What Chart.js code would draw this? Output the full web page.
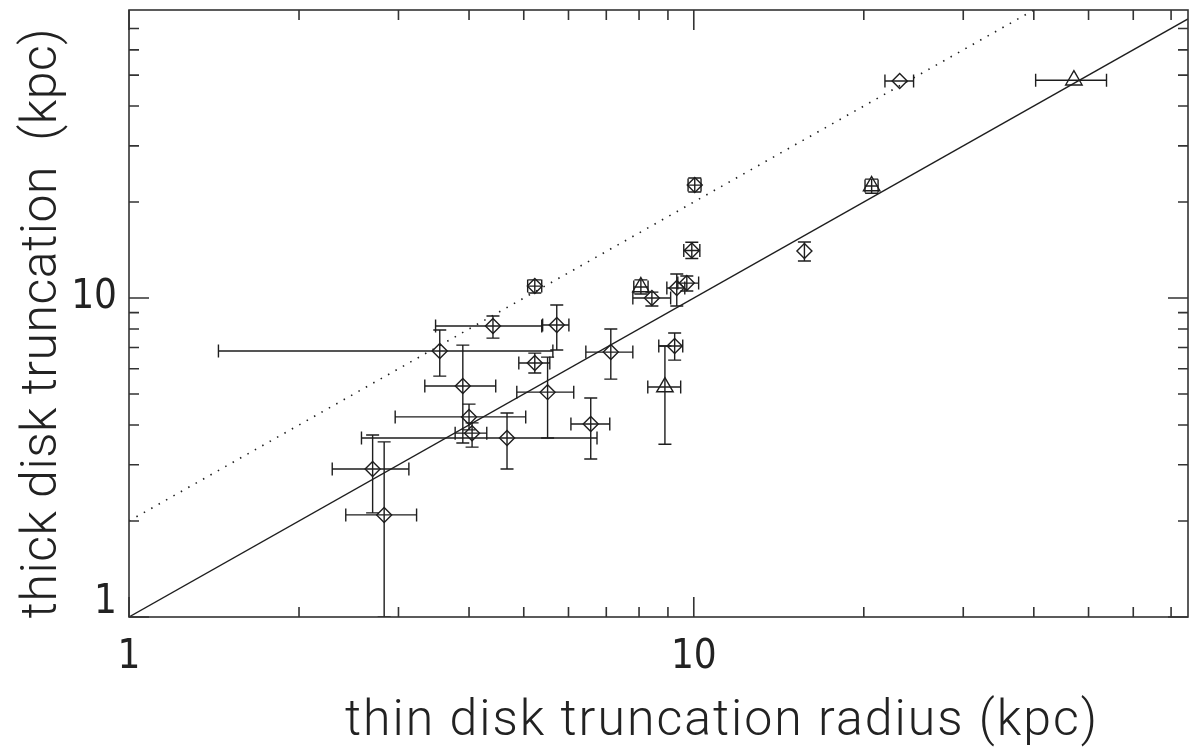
<!DOCTYPE html>
<html>
<head>
<meta charset="utf-8">
<script src="https://cdn.jsdelivr.net/npm/chart.js@4.4.1/dist/chart.umd.min.js"></script>
<style>
  html, body { margin: 0; padding: 0; background: #fff; }
  #wrap { width: 1189px; height: 750px; }
</style>
</head>
<body>
<div id="wrap"><canvas id="truncChart" width="1189" height="750"></canvas></div>
<script>
// diamond galaxies : thin disk radius (x), thick disk radius (y), error ranges (kpc)
var diamondX   = [3.55, 4.41, 5.72, 5.23, 3.90, 5.51, 4.00, 4.05, 4.67, 2.70, 2.83, 6.57, 7.13, 9.25, 8.43, 9.33, 9.72, 5.23, 9.92, 10.04, 15.7, 23.15];
var diamondY   = [6.82, 8.17, 8.23, 6.26, 5.30, 5.07, 4.24, 3.77, 3.64, 2.91, 2.09, 4.03, 6.77, 7.07, 10.0, 10.75, 11.14, 10.9, 14.1, 22.6, 14.04, 47.9];
var diamondXLo = [1.44, 3.49, 5.40, 4.90, 3.34, 4.86, 2.96, 3.78, 2.58, 2.29, 2.42, 6.06, 6.44, 8.67, 7.80, 8.96, 9.37, 5.08, 9.60, 9.77, 15.7, 21.8];
var diamondXHi = [5.63, 5.38, 6.01, 5.56, 4.46, 6.13, 5.04, 4.30, 6.74, 3.13, 3.23, 7.10, 7.80, 9.56, 9.10, 9.64, 10.2, 5.38, 10.25, 10.3, 15.7, 24.5];
var diamondYLo = [5.69, 7.49, 6.87, 5.82, 3.51, 3.64, 3.86, 3.41, 2.91, 2.12, 1.00, 3.13, 5.57, 6.39, 9.44, 9.44, 10.52, 10.37, 13.3, 21.5, 13.06, 47.9];
var diamondYHi = [7.94, 8.78, 9.51, 6.72, 7.12, 6.53, 4.65, 4.06, 4.36, 3.72, 3.54, 4.86, 8.00, 7.77, 10.44, 11.9, 11.72, 11.4, 14.96, 23.8, 14.98, 47.9];

// triangle galaxies
var triangleX   = [8.89, 8.06, 20.65, 47.1];
var triangleY   = [5.26, 10.83, 22.45, 48.2];
var triangleXLo = [8.29, 7.83, 20.1, 40.3];
var triangleXHi = [9.48, 8.30, 21.2, 53.8];
var triangleYLo = [3.48, 10.3, 21.3, 48.2];
var triangleYHi = [7.07, 11.4, 23.6, 48.2];

// reference relations y = x and y = 2x
var oneToOneX = [1, 75];
var oneToOneY = [1, 75];
var twoToOneX = [1, 40];
var twoToOneY = [2, 80];

// axis ticks
var xMajorTicks = [1, 10];
var xMinorTicks = [2, 3, 4, 5, 6, 7, 8, 9, 20, 30, 40, 50, 60, 70];
var yMajorTicks = [1, 10];
var yMinorTicks = [2, 3, 4, 5, 6, 7, 8, 9, 20, 30, 40, 50, 60, 70];
var xTickLabels = ['1', '10'];
var yTickLabels = ['1', '10'];

var xTitle = 'thin disk truncation radius (kpc)';
var yTitle = 'thick disk truncation  (kpc)';

var ink = '#1e1e1e';

function toPoints(xs, ys) {
	return xs.map(function(v, i) { return { x : v, y : ys[i] }; });
}

// error bars with caps, drawn through the scales
var errorBars = {
	id : 'errorBars',
	beforeDatasetsDraw : function(chart) {
		var ctx = chart.ctx, a = chart.chartArea;
		var xs = chart.scales.x, ys = chart.scales.y;
		var cap = 6.5;
		ctx.save();
		ctx.beginPath();
		ctx.rect(a.left, a.top, a.right - a.left, a.bottom - a.top);
		ctx.clip();
		ctx.strokeStyle = ink;
		ctx.lineWidth = 1.4;
		chart.data.datasets.forEach(function(ds) {
			if (!ds.xLo) return;
			ds.data.forEach(function(p, i) {
				var px = xs.getPixelForValue(p.x), py = ys.getPixelForValue(p.y);
				var x1 = xs.getPixelForValue(ds.xLo[i]), x2 = xs.getPixelForValue(ds.xHi[i]);
				var y1 = ys.getPixelForValue(ds.yLo[i]), y2 = ys.getPixelForValue(ds.yHi[i]);
				ctx.beginPath();
				if (ds.xLo[i] !== ds.xHi[i]) {
					ctx.moveTo(x1, py); ctx.lineTo(x2, py);
					ctx.moveTo(x1, py - cap); ctx.lineTo(x1, py + cap);
					ctx.moveTo(x2, py - cap); ctx.lineTo(x2, py + cap);
				}
				if (ds.yLo[i] !== ds.yHi[i]) {
					ctx.moveTo(px, y1); ctx.lineTo(px, y2);
					ctx.moveTo(px - cap, y1); ctx.lineTo(px + cap, y1);
					ctx.moveTo(px - cap, y2); ctx.lineTo(px + cap, y2);
				}
				ctx.stroke();
			});
		});
		ctx.restore();
	}
};

// IDL style frame : box, inward ticks on all four sides, labels and titles
var frame = {
	id : 'frame',
	afterDraw : function(chart) {
		var ctx = chart.ctx, a = chart.chartArea;
		var xs = chart.scales.x, ys = chart.scales.y;
		ctx.save();
		ctx.strokeStyle = '#333';
		ctx.lineWidth = 1.6;
		ctx.strokeRect(a.left, a.top, a.right - a.left, a.bottom - a.top);

		ctx.beginPath();
		function xTick(v, len) {
			var px = xs.getPixelForValue(v);
			ctx.moveTo(px, a.bottom); ctx.lineTo(px, a.bottom - len);
			ctx.moveTo(px, a.top); ctx.lineTo(px, a.top + len);
		}
		function yTick(v, len) {
			var py = ys.getPixelForValue(v);
			ctx.moveTo(a.left, py); ctx.lineTo(a.left + len, py);
			ctx.moveTo(a.right, py); ctx.lineTo(a.right - len, py);
		}
		xMajorTicks.forEach(function(v) { xTick(v, 20); });
		xMinorTicks.forEach(function(v) { xTick(v, 10); });
		yMajorTicks.forEach(function(v) { yTick(v, 20); });
		yMinorTicks.forEach(function(v) { yTick(v, 10); });
		ctx.stroke();

		ctx.fillStyle = '#222';
		ctx.font = "40px 'Liberation Sans Narrow', 'DejaVu Sans Condensed', sans-serif";
		ctx.textAlign = 'center';
		ctx.textBaseline = 'middle';
		xMajorTicks.forEach(function(v, i) {
			ctx.fillText(xTickLabels[i], xs.getPixelForValue(v), a.bottom + 41);
		});
		ctx.textAlign = 'right';
		yMajorTicks.forEach(function(v, i) {
			var py = Math.min(ys.getPixelForValue(v), a.bottom - 14);
			ctx.fillText(yTickLabels[i], a.left - 12, py);
		});

		ctx.font = "300 50px Roboto, 'Liberation Sans', sans-serif";
		ctx.textAlign = 'center';
		ctx.letterSpacing = '2px';
		ctx.fillText(xTitle, 722, 722);
		ctx.letterSpacing = '0.5px';
		ctx.translate(43, 323);
		ctx.rotate(-Math.PI / 2);
		ctx.fillText(yTitle, 0, 0);
		ctx.restore();
	}
};

var ctx = document.getElementById('truncChart').getContext('2d');
var truncChart = new Chart(ctx, {
	type : 'scatter',
	data : {
		datasets : [ {
			label : 'y = x',
			type : 'line',
			data : toPoints(oneToOneX, oneToOneY),
			borderColor : ink,
			borderWidth : 1.3,
			pointRadius : 0,
			fill : false
		}, {
			label : 'y = 2x',
			type : 'line',
			data : toPoints(twoToOneX, twoToOneY),
			borderColor : ink,
			borderWidth : 1.6,
			borderDash : [ 1.5, 7 ],
			pointRadius : 0,
			fill : false
		}, {
			label : 'diamonds',
			data : toPoints(diamondX, diamondY),
			xLo : diamondXLo, xHi : diamondXHi,
			yLo : diamondYLo, yHi : diamondYHi,
			pointStyle : 'rectRot',
			pointRadius : 7.5,
			pointBorderWidth : 1.4,
			pointBorderColor : ink,
			pointBackgroundColor : 'rgba(0,0,0,0)'
		}, {
			label : 'triangles',
			data : toPoints(triangleX, triangleY),
			xLo : triangleXLo, xHi : triangleXHi,
			yLo : triangleYLo, yHi : triangleYHi,
			pointStyle : 'triangle',
			pointRadius : 9.5,
			pointBorderWidth : 1.4,
			pointBorderColor : ink,
			pointBackgroundColor : 'rgba(0,0,0,0)'
		} ]
	},
	options : {
		responsive : false,
		animation : false,
		events : [],
		layout : { autoPadding : false, padding : { top : 10, right : 1, left : 0, bottom : 0 } },
		plugins : { legend : { display : false }, tooltip : { enabled : false } },
		scales : {
			x : {
				type : 'logarithmic',
				min : 1,
				max : 75,
				grid : { display : false, drawTicks : false },
				border : { display : false },
				ticks : { display : false },
				afterFit : function(scale) { scale.height = 133; }
			},
			y : {
				type : 'logarithmic',
				min : 1,
				max : 80,
				grid : { display : false, drawTicks : false },
				border : { display : false },
				ticks : { display : false },
				afterFit : function(scale) { scale.width = 129; }
			}
		}
	},
	plugins : [ errorBars, frame ]
});
</script>
</body>
</html>
